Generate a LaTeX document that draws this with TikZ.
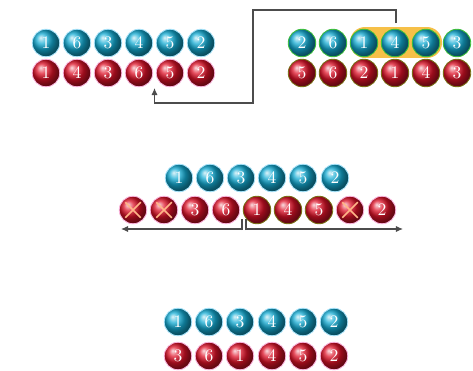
\documentclass[tikz,border=0pt]{standalone}
\usepackage{tikz}
\usetikzlibrary{shapes, arrows.meta, positioning, calc}
\definecolor{gemblue}{RGB}{20, 172, 212}
\definecolor{gemred}{RGB}{222, 18, 40}
\definecolor{selorange}{RGB}{246, 192, 72}
\definecolor{rimgreen}{RGB}{60, 190, 60}
\definecolor{rimolive}{RGB}{120, 110, 20}

\begin{document}
\begin{tikzpicture}[
  x=0.02cm, y=-0.02cm,
  gem/.style={circle, minimum size=0.55cm, inner sep=0pt, text=white, font=\normalsize, line width=0.5pt},
  bgem/.style={gem, ball color=gemblue, draw=cyan!35!white},
  rgem/.style={gem, ball color=gemred, draw=magenta!30!white},
  bkid/.style={gem, ball color=gemblue, draw=rimgreen},
  rkid/.style={gem, ball color=gemred, draw=rimolive},
  gone/.style={path picture={
    \draw[orange!45!pink!80!white, line width=0.9pt]
      ([shift={(0.12cm,-0.12cm)}]path picture bounding box.north west) -- ([shift={(-0.12cm,0.12cm)}]path picture bounding box.south east)
      ([shift={(-0.12cm,-0.12cm)}]path picture bounding box.north east) -- ([shift={(0.12cm,0.12cm)}]path picture bounding box.south west);}},
  link/.style={draw=black!70, line width=0.6pt},
  sel/.style={fill=selorange, rounded corners=0.3cm}
]
  \useasboundingbox (0,0) rectangle (473,371);

  % parent, top left
  \node[bgem] (pa1) at (46,43) {1};
  \node[bgem] (pa2) at (77,43) {6};
  \node[bgem] (pa3) at (108,43) {3};
  \node[bgem] (pa4) at (139,43) {4};
  \node[bgem] (pa5) at (170,43) {5};
  \node[bgem] (pa6) at (201,43) {2};
  \node[rgem] (pb1) at (46,73) {1};
  \node[rgem] (pb2) at (77,73) {4};
  \node[rgem] (pb3) at (108,73) {3};
  \node[rgem] (pb4) at (139,73) {6};
  \node[rgem] (pb5) at (170,73) {5};
  \node[rgem] (pb6) at (201,73) {2};

  % donor, top right
  \node[sel, minimum width=1.84cm, minimum height=0.62cm] (pick) at (396,42.5) {};
  \node[bkid] (da1) at (302,43) {2};
  \node[bkid] (da2) at (333,43) {6};
  \node[bkid] (da3) at (364,43) {1};
  \node[bkid] (da4) at (395,43) {4};
  \node[bkid] (da5) at (426,43) {5};
  \node[bkid] (da6) at (457,43) {3};
  \node[rkid] (db1) at (302,73) {5};
  \node[rkid] (db2) at (333,73) {6};
  \node[rkid] (db3) at (364,73) {2};
  \node[rkid] (db4) at (395,73) {1};
  \node[rkid] (db5) at (426,73) {4};
  \node[rkid] (db6) at (457,73) {3};

  \coordinate (overA) at (253,10);
  \coordinate (overB) at (253,103);
  \coordinate (slot) at (154.5,88);
  \draw[link, -{Latex[length=4pt, width=3.5pt]}] ([yshift=2pt]pick.north) |- (overA) -- (overB) -| (slot);

  % insertion, middle
  \node[bgem] (ma1) at (179,178) {1};
  \node[bgem] (ma2) at (210,178) {6};
  \node[bgem] (ma3) at (241,178) {3};
  \node[bgem] (ma4) at (272,178) {4};
  \node[bgem] (ma5) at (303,178) {5};
  \node[bgem] (ma6) at (335,178) {2};
  \node[rgem, gone] (mb1) at (133,210) {};
  \node[rgem, gone] (mb2) at (164,210) {};
  \node[rgem] (mb3) at (195,210) {3};
  \node[rgem] (mb4) at (226,210) {6};
  \node[rkid] (mb5) at (257,210) {1};
  \node[rkid] (mb6) at (288,210) {4};
  \node[rkid] (mb7) at (319,210) {5};
  \node[rgem, gone] (mb8) at (350,210) {};
  \node[rgem] (mb9) at (382,210) {2};

  \coordinate (cutL) at (242,229);
  \coordinate (cutR) at (246,229);
  \coordinate (endL) at (121,229);
  \coordinate (endR) at (403,229);
  \draw[link, -{Latex[length=4pt, width=3.5pt]}] (cutL) -- (endL);
  \draw[link, -{Latex[length=4pt, width=3.5pt]}] (cutR) -- (endR);
  \draw[link] (cutL) ++(0,1) -- ++(0,-11);
  \draw[link] (cutR) ++(0,1) -- ++(0,-11);

  % offspring, bottom
  \node[bgem] (oa1) at (178,322) {1};
  \node[bgem] (oa2) at (209,322) {6};
  \node[bgem] (oa3) at (240,322) {3};
  \node[bgem] (oa4) at (272,322) {4};
  \node[bgem] (oa5) at (303,322) {5};
  \node[bgem] (oa6) at (334,322) {2};
  \node[rgem] (ob1) at (178,356) {3};
  \node[rgem] (ob2) at (209,356) {6};
  \node[rgem] (ob3) at (240,356) {1};
  \node[rgem] (ob4) at (272,356) {4};
  \node[rgem] (ob5) at (303,356) {5};
  \node[rgem] (ob6) at (334,356) {2};
\end{tikzpicture}
\end{document}
